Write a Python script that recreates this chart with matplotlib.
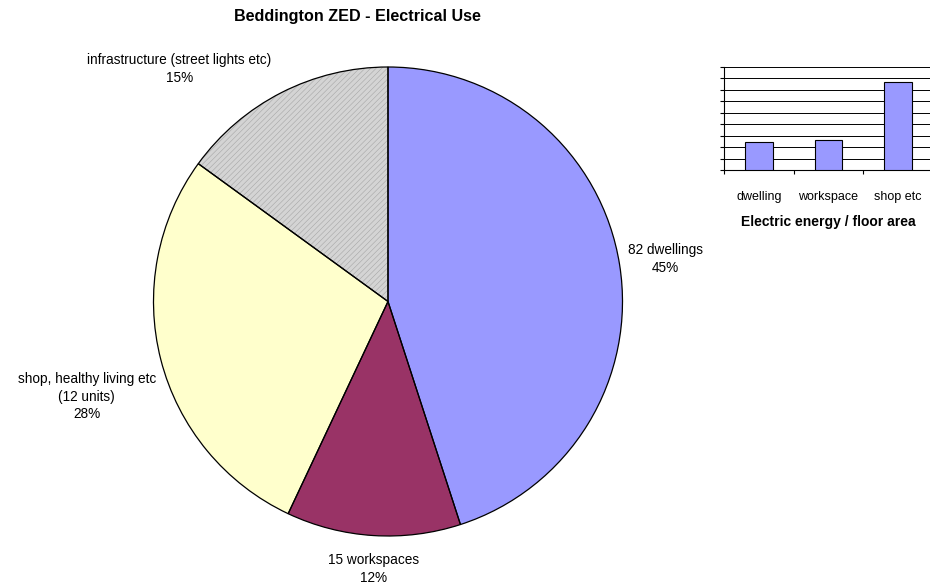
import numpy as np
import matplotlib.pyplot as plt

plt.rcParams['font.family'] = ['Liberation Sans', 'DejaVu Sans']
plt.rcParams['hatch.linewidth'] = 0.4

# pie data
pie_labels = ['82 dwellings\n45%', '15 workspaces\n12%',
              'shop, healthy living etc\n(12 units)\n28%',
              'infrastructure (street lights etc)\n15%']
pie_values = [45, 12, 28, 15]
pie_colors = ['#9999ff', '#993366', '#ffffcc', '#d4d4d4']
# label positions in pie-radius units
label_pos = [(1.183, 0.181), (-0.06, -1.141), (-1.285, -0.407), (-0.889, 0.991)]

# small bar chart data
bar_cats = ['dwelling', 'workspace', 'shop etc']
bar_values = [2.45, 2.65, 7.7]

fig = plt.figure(figsize=(9.3, 5.87), dpi=100)

# Pie
cx, cy, r = 388, 301.5, 234.5
ax = fig.add_axes([(cx - r) / 930, (587 - cy - r) / 587, 2 * r / 930, 2 * r / 587])
wedges, _ = ax.pie(pie_values, colors=pie_colors, startangle=90, counterclock=False,
                   wedgeprops=dict(linewidth=0))
# fine gray hatch on infrastructure slice (hatch takes the edge colour)
wedges[3].set_hatch('//////')
wedges[3].set_edgecolor('#a6a6a6')
# black outlines drawn on top
ax.pie(pie_values, colors=['none'] * 4, startangle=90, counterclock=False,
       wedgeprops=dict(edgecolor='black', linewidth=0.9, fill=False))
ax.set_xlim(-1, 1)
ax.set_ylim(-1, 1)
ax.set_aspect('equal')
for lab, (lx, ly) in zip(pie_labels, label_pos):
    ax.text(lx, ly, lab, ha='center', va='center', fontsize=9.8, linespacing=1.32)

fig.text(357.5 / 930, 1 - 17 / 587, 'Beddington ZED - Electrical Use',
         ha='center', va='center', fontsize=11.6, fontweight='bold')

# Bar chart
bx = fig.add_axes([724 / 930, (587 - 170) / 587, 209 / 930, 103 / 587])
x = np.arange(len(bar_cats))
bx.bar(x, bar_values, width=0.4, color='#9999ff', edgecolor='black', linewidth=0.8, zorder=3)
bx.set_xlim(-0.5, 2.5)
bx.set_ylim(0, 9)
bx.set_yticks(np.arange(0, 10))
bx.set_yticklabels([])
bx.yaxis.grid(True, color='black', linewidth=0.7)
bx.set_axisbelow(True)
bx.set_xticks([-0.5, 0.5, 1.5, 2.5])
bx.set_xticklabels([])
bx.set_xticks(x, minor=True)
bx.set_xticklabels(bar_cats, minor=True, fontsize=9)
bx.tick_params(axis='x', which='minor', length=0, pad=15)
bx.tick_params(axis='both', which='major', length=3, width=0.8, direction='out')
bx.spines['top'].set_visible(False)
bx.spines['right'].set_visible(False)
bx.set_xlabel('Electric energy / floor area', fontsize=10, fontweight='bold', labelpad=9)

fig.savefig('out.png', dpi=100)
